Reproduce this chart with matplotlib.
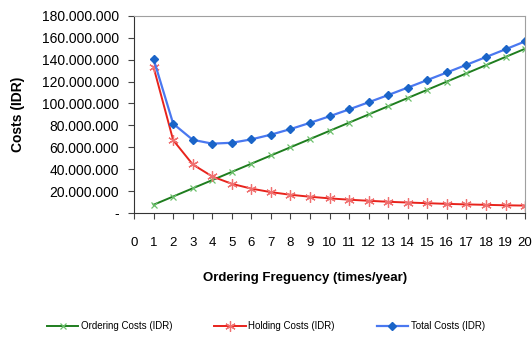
import matplotlib.pyplot as plt
from matplotlib.ticker import FuncFormatter

freq = list(range(1, 21))
ordering = [7.5, 15, 22.5, 30, 37.5, 45, 52.5, 60, 67.5, 75,
            82.5, 90, 97.5, 105, 112.5, 120, 127.5, 135, 142.5, 150]
holding = [133, 66.5, 44.3, 33.3, 26.6, 22.2, 19.0, 16.6, 14.8, 13.3,
           12.1, 11.1, 10.2, 9.5, 8.9, 8.3, 7.8, 7.4, 7.0, 6.7]
total = [140.5, 81.5, 66.8, 63.3, 64.1, 67.2, 71.5, 76.6, 82.3, 88.3,
         94.6, 101.1, 107.7, 114.5, 121.4, 128.3, 135.3, 142.4, 149.5, 156.7]
scale = 1e6

plt.rcParams['font.family'] = ['Liberation Sans', 'DejaVu Sans']

fig = plt.figure(figsize=(5.32, 3.38), dpi=100)
ax = fig.add_axes([0.252, 0.370, 0.735, 0.583])

ax.plot(freq, [v * scale for v in ordering], color='#1e7d1e', lw=1.4,
        marker='x', ms=5, mec='#6cc06c', mew=0.9, label='Ordering Costs (IDR)')
ax.plot(freq, [v * scale for v in holding], color='#e8231c', lw=1.4,
        marker=(6, 2, 0), ms=7.5, mec='#f07070', mew=0.9, label='Holding Costs (IDR)')
ax.plot(freq, [v * scale for v in total], color='#4a78f0', lw=1.6,
        marker='D', ms=4.5, mfc='#1a64c8', mec='#1a64c8', label='Total Costs (IDR)')

ax.set_xlim(0, 20)
ax.set_ylim(0, 180e6)
ax.set_xticks(range(0, 21))
ax.set_yticks(range(0, 180000001, 20000000))


def fmt(v, pos):
    if v == 0:
        return '-'
    return f"{int(v):,}".replace(',', '.')


ax.yaxis.set_major_formatter(FuncFormatter(fmt))
ax.tick_params(axis='x', direction='out', length=4, pad=13, labelsize=9.5,
               color='#444444')
ax.tick_params(axis='y', direction='out', length=4, pad=7, labelsize=10,
               color='#444444')
for s in ['top', 'right']:
    ax.spines[s].set_color('#a0a0a0')
for s in ['left', 'bottom']:
    ax.spines[s].set_color('#333333')

ax.set_xlabel('Ordering Freguency (times/year)', fontsize=9.5,
              fontweight='bold')
ax.xaxis.set_label_coords(0.437, -0.30)
ax.set_ylabel('Costs (IDR)', fontsize=10, fontweight='bold', labelpad=12)

fig.legend(loc='center', bbox_to_anchor=(0.50, 0.035), ncol=3, frameon=False,
           fontsize=7, handlelength=3.2, columnspacing=4.3, handletextpad=0.3)

fig.savefig('out.png', dpi=100)
